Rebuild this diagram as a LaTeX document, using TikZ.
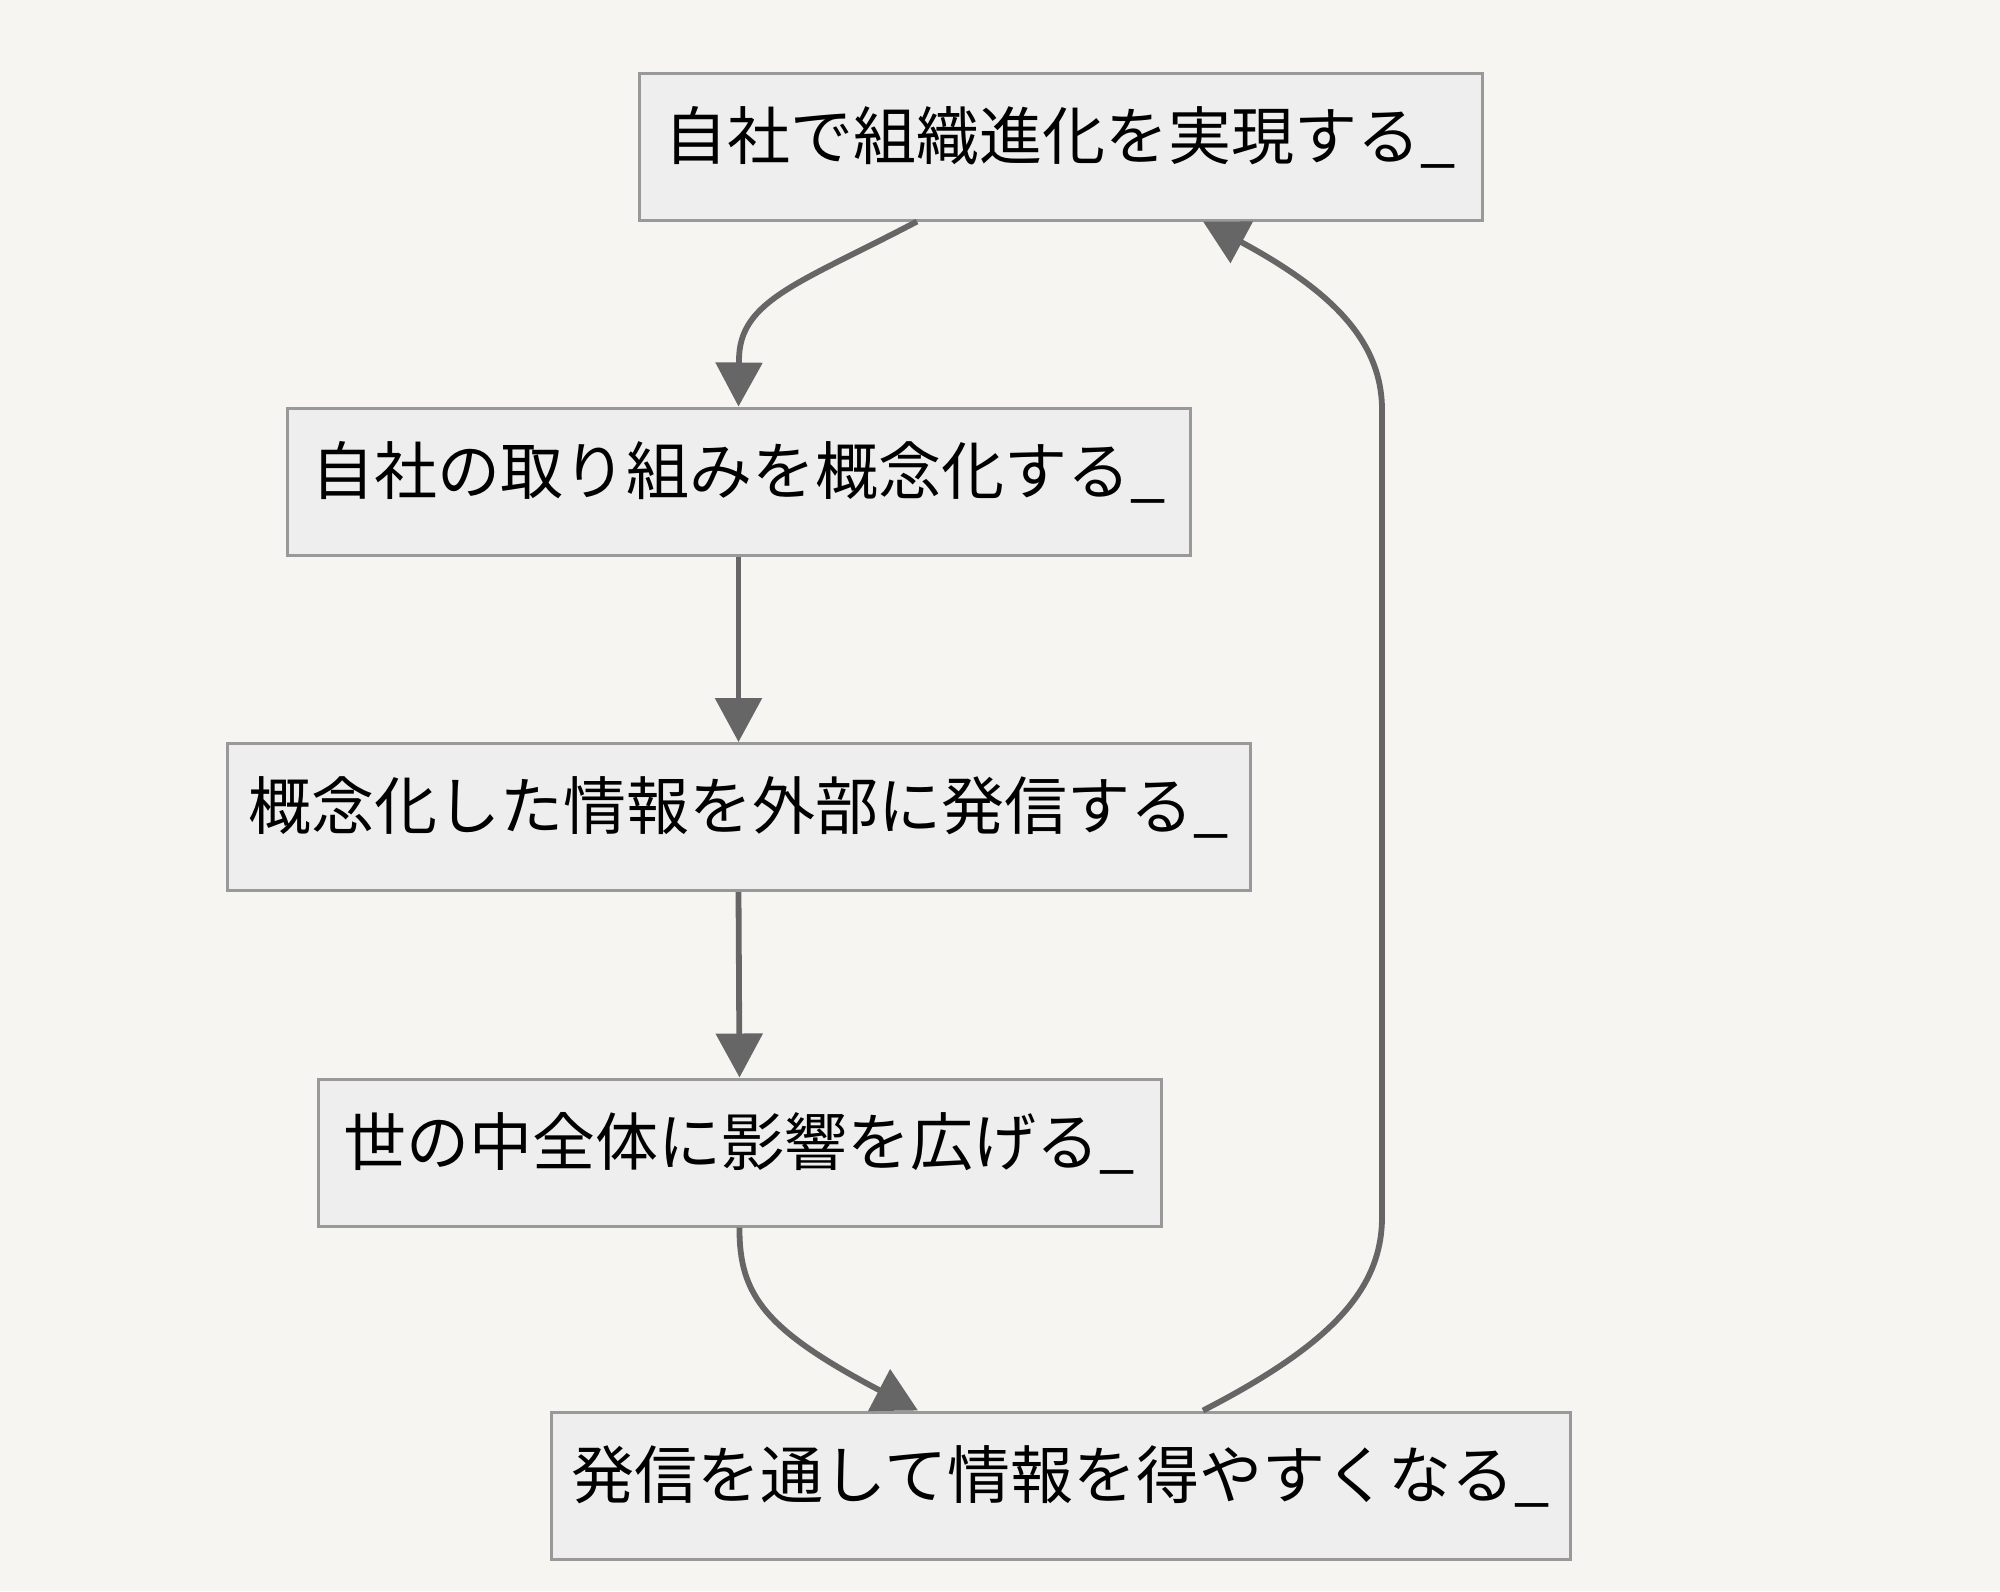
\documentclass[tikz,border=0pt]{standalone}
\usepackage{fontspec}
\newfontfamily\jpfont{Noto Sans CJK JP}
\usepackage{tikz}
\usetikzlibrary{arrows.meta, positioning}
\usepackage{xcolor}
\definecolor{bgpaper}{HTML}{F6F5F1}
\definecolor{boxfill}{HTML}{EEEEEE}
\definecolor{boxline}{HTML}{999999}
\definecolor{flowline}{HTML}{666666}
\tikzset{
  stepnode/.style={rectangle, draw=boxline, fill=boxfill, line width=1.5pt,
                   minimum height=73.5pt, inner sep=0pt,
                   text height=22pt, text depth=9.5pt,
                   font=\jpfont\fontsize{31.5}{36}\selectfont},
  flow/.style={draw=flowline, line width=2.9pt,
               -{Triangle[length=22pt, width=23pt]}},
}

\begin{document}
\begin{tikzpicture}[x=0.5pt, y=-0.5pt]
    %% paper
    \fill[bgpaper] (0,0) rectangle (2000,1591);
    %% steps of the cycle
    \node[stepnode, minimum width=421.5pt] (realize)  at (1060.5,146.5)  {自社で組織進化を実現する\_};
    \node[stepnode, minimum width=451.5pt] (abstract) at (738.5,481.5)   {自社の取り組みを概念化する\_};
    \node[stepnode, minimum width=511.5pt] (publish)  at (738.5,817)     {概念化した情報を外部に発信する\_};
    \node[stepnode, minimum width=421.5pt] (spread)   at (739.5,1152.5)  {世の中全体に影響を広げる\_};
    \node[stepnode, minimum width=509.5pt] (gather)   at (1060.5,1485.5) {発信を通して情報を得やすくなる\_};
    %% flow down
    \draw[flow] ([xshift=-71.75pt]realize.south)
      .. controls (800,283) and (739,300) .. (739,360) -- (abstract.north);
    \draw[flow] (abstract.south) -- (publish.north);
    \draw[flow] (publish.south) -- (spread.north);
    \draw[flow] (spread.south)
      .. controls (739,1295) and (765,1330) .. ([xshift=-71.25pt]gather.north);
    %% back to the top
    \draw[flow] ([xshift=71.25pt]gather.north)
      .. controls (1330,1345) and (1382,1290) .. (1382,1217) -- (1382,410)
      .. controls (1382,340) and (1330,290) .. ([xshift=71.25pt]realize.south);
\end{tikzpicture}
\end{document}
